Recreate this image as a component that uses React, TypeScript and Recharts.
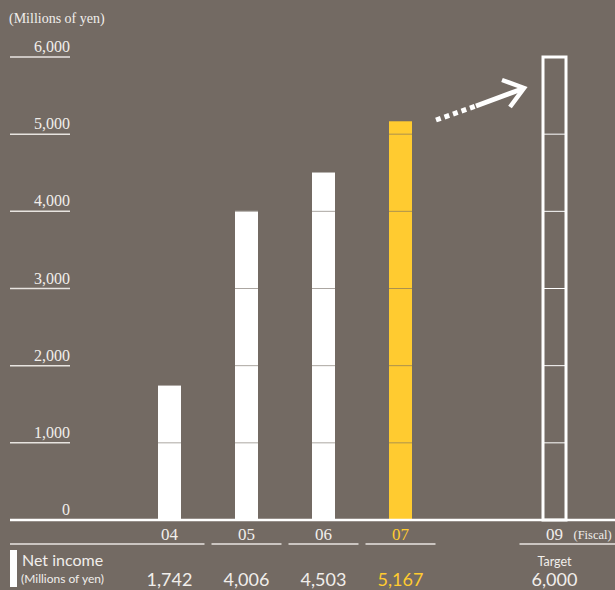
import { BarChart, Bar, XAxis, YAxis } from 'recharts';

const years = ['04', '05', '06', '07', '08', '09'];
const netIncome = [1742, 4006, 4503, 5167, null, 6000];
const valueLabels = ['1,742', '4,006', '4,503', '5,167', '', '6,000'];
const yTicks = [0, 1000, 2000, 3000, 4000, 5000, 6000];

const BG = '#736a63';
const TXT = '#f1eeeb';
const YELLOW = '#ffcb30';
const SERIF = '"Liberation Serif", "DejaVu Serif", serif';
const SANS = 'Lato, "Noto Sans", sans-serif';

const data = years.map((y, i) => ({ year: y, value: netIncome[i] }));

const BarShape = (props: any) => {
    const { x, y, width, height, payload } = props;
    if (!payload || payload.value == null || !height) return null;
    const v = payload.value;
    const lines = [];
    for (let k = 1000; k < v; k += 1000) {
        lines.push(y + height - (height * k) / v);
    }
    if (payload.year === '09') {
        // target: outline only
        return (
            <g>
                <rect x={x} y={y} width={width} height={height} fill="none" stroke="#ffffff" strokeWidth={3} />
                {lines.map((ly, i) => (
                    <line key={i} x1={x} x2={x + width} y1={ly} y2={ly} stroke="#ffffff" strokeWidth={1} />
                ))}
            </g>
        );
    }
    return (
        <g>
            <rect x={x} y={y} width={width} height={height} fill={payload.year === '07' ? YELLOW : '#ffffff'} />
            {lines.map((ly, i) => (
                <line key={i} x1={x} x2={x + width} y1={ly} y2={ly} stroke={BG} strokeOpacity={0.6} strokeWidth={1} />
            ))}
        </g>
    );
};

const YTick = (props: any) => {
    const { y, payload } = props;
    return (
        <g>
            {payload.value !== 0 && (
                <line x1={10} x2={70} y1={y} y2={y} stroke="#e8e4e0" strokeWidth={1.5} />
            )}
            <text x={70} y={y - 5} textAnchor="end" fill={TXT} fontFamily={SERIF} fontSize={16}>
                {payload.value.toLocaleString('en-US')}
            </text>
        </g>
    );
};

const XTick = (props: any) => {
    const { x, y, payload, index } = props;
    const label = payload.value;
    if (label === '08') return null;
    const x1 = index === 0 ? 10 : x - 35;
    const x2 = index === years.length - 1 ? 615 : x + 35;
    const color = label === '07' ? YELLOW : TXT;
    return (
        <g>
            <text x={x} y={y + 20} textAnchor="middle" fill={color} fontFamily={SERIF} fontSize={17}>
                {label}
            </text>
            {label === '09' && (
                <text x={x + 19} y={y + 19} fill={TXT} fontFamily={SERIF} fontSize={12.5}>
                    (Fiscal)
                </text>
            )}
            <line x1={x1} x2={x2} y1={y + 24} y2={y + 24} stroke="#e8e4e0" strokeWidth={1.5} />
            <text x={x} y={y + 66} textAnchor="middle" fill={color} fontFamily={SANS} fontSize={18}>
                {valueLabels[index]}
            </text>
            {label === '09' && (
                <text x={x} y={y + 46} textAnchor="middle" fill={TXT} fontFamily={SANS} fontSize={12.5}>
                    Target
                </text>
            )}
        </g>
    );
};

export default function App() {
    return (
        <div style={{ position: 'absolute', left: 0, top: 0, width: 615, height: 590, background: BG }}>
            <BarChart
                width={615}
                height={590}
                data={data}
                margin={{ top: 57, right: 0, bottom: 0, left: 10 }}
            >
                <XAxis
                    dataKey="year"
                    height={70}
                    padding={{ left: 121, right: 22 }}
                    axisLine={{ stroke: '#ffffff', strokeWidth: 2.5 }}
                    tickLine={false}
                    tickSize={0}
                    tickMargin={0}
                    interval={0}
                    tick={<XTick />}
                />
                <YAxis
                    mirror
                    domain={[0, 6000]}
                    ticks={yTicks}
                    axisLine={false}
                    tickLine={false}
                    interval={0}
                    tick={<YTick />}
                />
                <Bar dataKey="value" barSize={23} shape={<BarShape />} isAnimationActive={false} />
            </BarChart>
            <svg width={615} height={590} style={{ position: 'absolute', left: 0, top: 0, pointerEvents: 'none' }}>
                <text x={9} y={23} fill={TXT} fontFamily={SERIF} fontSize={14}>(Millions of yen)</text>
                <line x1={436} y1={120} x2={476} y2={106} stroke="#ffffff" strokeWidth={5} strokeDasharray="5 4" />
                <line x1={476} y1={106} x2={522} y2={89} stroke="#ffffff" strokeWidth={5} />
                <polyline points="502,80 524,88 510,107" fill="none" stroke="#ffffff" strokeWidth={4.5} />
                <rect x={10} y={550} width={7} height={37} fill="#ffffff" />
                <text x={22} y={566} fill={TXT} fontFamily={SANS} fontSize={16}>Net income</text>
                <text x={21} y={583} fill={TXT} fontFamily={SANS} fontSize={12}>(Millions of yen)</text>
            </svg>
        </div>
    );
}
